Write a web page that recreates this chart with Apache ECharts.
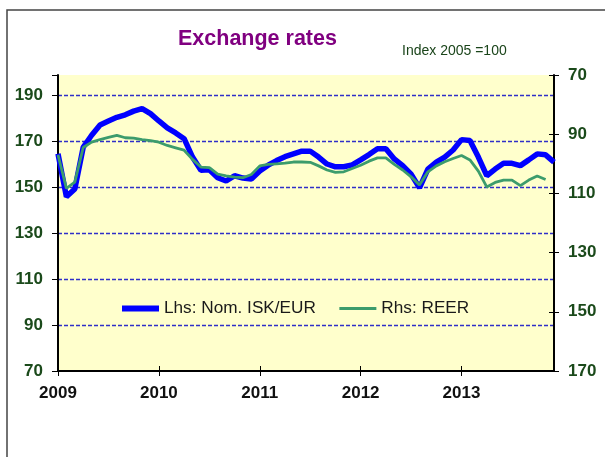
<!DOCTYPE html>
<html>
<head>
<meta charset="utf-8">
<script src="https://cdn.jsdelivr.net/npm/echarts@6/dist/echarts.min.js"></script>
<style>
  html, body { margin: 0; padding: 0; background: #fff; }
  #chart { width: 605px; height: 457px; }
</style>
</head>
<body>
<div id="chart"></div>
<script>
// monthly, Jan 2009 - Dec 2013
var years = ['2009', '2010', '2011', '2012', '2013'];
var months = [];
years.forEach(function (y) {
  for (var m = 1; m <= 12; m++) months.push(y + '-' + (m < 10 ? '0' + m : m));
});

// Lhs: nominal ISK/EUR
var nomIskEur = [
  164.5, 145.8, 149.1, 167.3, 172.5, 177.0, 178.7, 180.3, 181.4, 183.0, 184.1, 181.9,
  178.7, 175.7, 173.5, 171.0, 163.0, 157.3, 157.5, 154.0, 152.6, 154.9, 153.9, 153.5,
  157.0, 159.5, 161.5, 163.2, 164.4, 165.6, 165.6, 163.0, 160.0, 158.8, 158.8, 159.6,
  161.8, 164.1, 166.6, 166.6, 162.2, 159.3, 155.6, 149.6, 157.8, 160.8, 163.0, 166.1,
  170.6, 170.2, 163.0, 154.9, 157.8, 160.3, 160.3, 159.3, 161.8, 164.4, 164.0, 160.8
];

// Rhs: real effective exchange rate (inverted axis)
var reer = [
  97.0, 108.3, 106.2, 94.5, 92.7, 91.8, 91.1, 90.4, 91.2, 91.3, 91.8, 92.2,
  92.7, 93.8, 94.6, 95.4, 98.5, 101.1, 101.3, 103.5, 104.1, 104.5, 104.7, 103.6,
  100.7, 100.2, 100.0, 99.8, 99.4, 99.4, 99.5, 100.7, 102.1, 102.9, 102.7, 101.6,
  100.5, 99.1, 98.0, 98.0, 100.2, 102.1, 104.4, 107.2, 102.7, 100.7, 99.3, 98.2,
  97.2, 98.7, 102.5, 107.8, 106.3, 105.5, 105.5, 107.4, 105.5, 104.1, 105.3
];

var font = 'Liberation Sans, Arial, sans-serif';
var chart = echarts.init(document.getElementById('chart'));

function yearTick(index) {
  return index % 12 === 0;
}

var option = {
  backgroundColor: '#fff',
  animation: false,
  title: {
    text: 'Exchange rates',
    left: 178,
    top: 28,
    padding: 0,
    textStyle: { color: '#800080', fontSize: 21.5, fontWeight: 'bold', fontFamily: font }
  },
  graphic: [
    {
      type: 'rect',
      shape: { x: 7, y: 10, width: 700, height: 500 },
      style: { fill: 'none', stroke: '#444', lineWidth: 1.5 }
    },
    {
      type: 'text',
      left: 402,
      top: 44,
      style: { text: 'Index 2005 =100', fill: '#1a441a', font: '14px ' + font }
    }
  ],
  legend: {
    left: 114,
    top: 295,
    itemWidth: 37,
    itemHeight: 14,
    itemGap: 22,
    itemStyle: { opacity: 0 },
    textStyle: { color: '#1a1a1a', fontSize: 17.2, fontFamily: font },
    data: [
      { name: 'Lhs: Nom. ISK/EUR', lineStyle: { width: 6 } },
      { name: 'Rhs: REER', lineStyle: { width: 3 } }
    ]
  },
  grid: {
    left: 58,
    top: 75,
    right: 51,
    bottom: 86,
    show: true,
    backgroundColor: '#ffffcc',
    borderWidth: 0
  },
  xAxis: [{
    type: 'category',
    data: months,
    boundaryGap: false,
    position: 'bottom',
    axisLine: { lineStyle: { color: '#000', width: 2 } },
    axisTick: { interval: yearTick, length: 5, lineStyle: { color: '#000', width: 1 } },
    axisLabel: {
      interval: yearTick,
      margin: 14,
      formatter: function (v) { return v.slice(0, 4); },
      color: '#111',
      fontSize: 17,
      fontWeight: 'bold',
      fontFamily: font
    },
    splitLine: { show: false }
  }, {
    type: 'category',
    data: months,
    boundaryGap: false,
    position: 'bottom',
    axisLine: { show: false },
    axisTick: { interval: yearTick, inside: true, length: 5, lineStyle: { color: '#000', width: 1 } },
    axisLabel: { show: false },
    splitLine: { show: false }
  }],
  yAxis: [{
    type: 'value',
    min: 70,
    max: 198.7,
    interval: 20,
    position: 'left',
    axisLine: { show: true, lineStyle: { color: '#000', width: 2 } },
    axisTick: { show: true, length: 6, lineStyle: { color: '#000', width: 1 } },
    axisLabel: {
      margin: 15,
      color: '#1b4a1b',
      fontSize: 17,
      fontWeight: 'bold',
      fontFamily: font,
      formatter: function (v) { return v > 190 ? '' : v; }
    },
    splitLine: {
      show: true,
      showMinLine: false,
      showMaxLine: false,
      lineStyle: { color: '#2f2fc8', width: 1.4, type: [4, 2] }
    }
  }, {
    type: 'value',
    min: 70,
    max: 170,
    interval: 20,
    inverse: true,
    position: 'right',
    axisLine: { show: true, lineStyle: { color: '#000', width: 2 } },
    axisTick: { show: true, length: 5, lineStyle: { color: '#000', width: 1 } },
    axisLabel: {
      margin: 14,
      color: '#1b4a1b',
      fontSize: 17,
      fontWeight: 'bold',
      fontFamily: font
    },
    splitLine: { show: false }
  }, {
    type: 'value',
    min: 70,
    max: 170,
    interval: 20,
    inverse: true,
    position: 'right',
    axisLine: { show: false },
    axisTick: { show: true, inside: true, length: 5, lineStyle: { color: '#000', width: 1 } },
    axisLabel: { show: false },
    splitLine: { show: false }
  }],
  series: [{
    name: 'Lhs: Nom. ISK/EUR',
    type: 'line',
    yAxisIndex: 0,
    data: nomIskEur,
    symbol: 'none',
    z: 3,
    lineStyle: { color: '#0000ff', width: 5.5 },
    itemStyle: { color: '#0000ff' }
  }, {
    name: 'Rhs: REER',
    type: 'line',
    yAxisIndex: 1,
    data: reer,
    symbol: 'none',
    z: 4,
    lineStyle: { color: '#3c9c6c', width: 2.8 },
    itemStyle: { color: '#3c9c6c' }
  }]
};

chart.setOption(option);
</script>
</body>
</html>
